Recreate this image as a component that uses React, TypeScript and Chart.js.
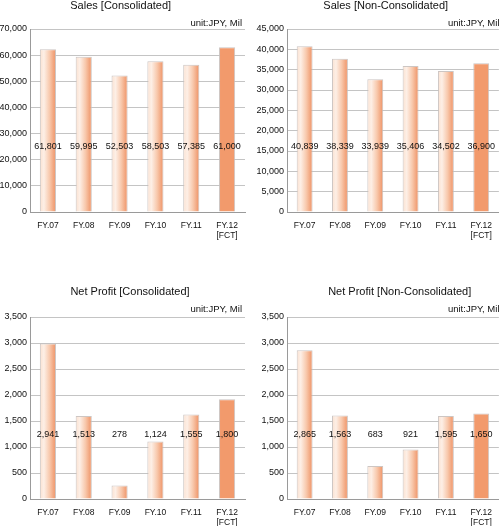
import React, { useEffect, useRef } from 'react';
import { Chart, registerables } from 'chart.js';

Chart.register(...registerables);

const categories: (string | string[])[] = ['FY.07', 'FY.08', 'FY.09', 'FY.10', 'FY.11', ['FY.12', '[FCT]']];

// bar heights as drawn in the picture
const salesConsBars = [62250, 59420, 52170, 57660, 56370, 63000];
const salesConsLabels = ['61,801', '59,995', '52,503', '58,503', '57,385', '61,000'];

const salesNonConsBars = [40750, 37710, 32650, 35920, 34690, 36580];
const salesNonConsLabels = ['40,839', '38,339', '33,939', '35,406', '34,502', '36,900'];

const profitConsBars = [2988, 1596, 258, 1104, 1623, 1917];
const profitConsLabels = ['2,941', '1,513', '278', '1,124', '1,555', '1,800'];

const profitNonConsBars = [2860, 1604, 635, 950, 1596, 1642];
const profitNonConsLabels = ['2,865', '1,563', '683', '921', '1,595', '1,650'];

const unitText = 'unit:JPY, Mil';

const FONT = '"Liberation Sans", Arial, sans-serif';
const TEXT = '#111';

const textPlugin = {
  id: 'panelText',
  afterDraw(chart: any, _args: any, opts: any) {
    const ctx = chart.ctx;
    ctx.save();
    ctx.fillStyle = TEXT;
    ctx.textBaseline = 'middle';
    ctx.font = `11px ${FONT}`;
    ctx.textAlign = 'center';
    ctx.fillText(opts.title, opts.titleX, opts.titleY);
    ctx.font = `9.5px ${FONT}`;
    ctx.textAlign = 'right';
    ctx.fillText(opts.unit, opts.unitX, opts.unitY);
    const meta = chart.getDatasetMeta(0);
    const ca = chart.chartArea;
    const y = ca.bottom - 0.356 * (ca.bottom - ca.top);
    ctx.font = `9px ${FONT}`;
    ctx.textAlign = 'center';
    meta.data.forEach((el: any, i: number) => {
      ctx.fillText(opts.labels[i], el.x, y);
    });
    ctx.restore();
  },
};

type PanelProps = {
  title: string;
  bars: number[];
  labels: string[];
  max: number;
  step: number;
  left: number;
  top: number;
  width: number;
  height: number;
  yAxisWidth: number;
  padTop: number;
  padRight: number;
  xAxisHeight: number;
  titleX: number;
  titleY: number;
  unitX: number;
  unitY: number;
};

function Panel(p: PanelProps) {
  const ref = useRef<HTMLCanvasElement | null>(null);
  useEffect(() => {
    if (!ref.current) return;
    const n = p.bars.length;
    const barPct = 0.45;
    const chart = new Chart(ref.current, {
      type: 'bar',
      data: {
        labels: categories as any,
        datasets: [
          {
            data: p.bars,
            barPercentage: barPct,
            categoryPercentage: 1,
            borderWidth: { top: 1, left: 1, right: 1, bottom: 0 } as any,
            borderColor: 'rgba(200,192,188,0.9)',
            backgroundColor: (c: any) => {
              const ch = c.chart;
              const i = c.dataIndex;
              if (i === n - 1) return '#f29a6c';
              const xs = ch.scales && ch.scales.x;
              if (!ch.chartArea || !xs || i === undefined) return '#f6c3a6';
              const cx = xs.getPixelForValue(i);
              const w = (xs.width / n) * barPct;
              const g = ch.ctx.createLinearGradient(cx - w / 2, 0, cx + w / 2, 0);
              g.addColorStop(0, '#fbe1d0');
              g.addColorStop(0.25, '#fdefe6');
              g.addColorStop(0.6, '#f8c9ad');
              g.addColorStop(1, '#ee9062');
              return g;
            },
          },
        ],
      },
      options: {
        responsive: false,
        animation: false,
        events: [],
        layout: { padding: { top: p.padTop, right: p.padRight, left: 0, bottom: 0 } },
        plugins: {
          legend: { display: false },
          tooltip: { enabled: false },
          panelText: {
            title: p.title,
            unit: unitText,
            labels: p.labels,
            titleX: p.titleX,
            titleY: p.titleY,
            unitX: p.unitX,
            unitY: p.unitY,
          },
        } as any,
        scales: {
          x: {
            ticks: {
              font: { family: FONT, size: 8.5, lineHeight: 1.15 },
              color: TEXT,
              padding: 9,
              maxRotation: 0,
              autoSkip: false,
            },
            grid: { display: false, drawTicks: false },
            border: { color: '#9a9a9a' },
            afterFit: (s: any) => {
              s.height = p.xAxisHeight;
            },
          },
          y: {
            min: 0,
            max: p.max,
            ticks: {
              stepSize: p.step,
              padding: 3,
              font: { family: FONT, size: 9 },
              color: TEXT,
              callback: (v: any) => Number(v).toLocaleString('en-US'),
            },
            grid: { color: '#c4c4c4', drawTicks: false },
            border: { color: '#9a9a9a' },
            afterFit: (s: any) => {
              s.width = p.yAxisWidth;
            },
          },
        },
      },
      plugins: [textPlugin as any],
    });
    return () => chart.destroy();
  }, []);
  return (
    <canvas
      ref={ref}
      width={p.width}
      height={p.height}
      style={{ position: 'absolute', left: p.left, top: p.top, width: p.width, height: p.height }}
    />
  );
}

export default function App() {
  return (
    <div style={{ position: 'absolute', left: 0, top: 0, width: 501, height: 526, background: '#fff', overflow: 'hidden' }}>
      <Panel
        title="Sales [Consolidated]"
        bars={salesConsBars}
        labels={salesConsLabels}
        max={70000}
        step={10000}
        left={0}
        top={0}
        width={250}
        height={260}
        yAxisWidth={30}
        padTop={29}
        padRight={5}
        xAxisHeight={48}
        titleX={120.7}
        titleY={5.5}
        unitX={242}
        unitY={23}
      />
      <Panel
        title="Sales [Non-Consolidated]"
        bars={salesNonConsBars}
        labels={salesNonConsLabels}
        max={45000}
        step={5000}
        left={250}
        top={0}
        width={251}
        height={260}
        yAxisWidth={37}
        padTop={29}
        padRight={0}
        xAxisHeight={48}
        titleX={135.7}
        titleY={5.5}
        unitX={249.5}
        unitY={23}
      />
      <Panel
        title="Net Profit [Consolidated]"
        bars={profitConsBars}
        labels={profitConsLabels}
        max={3500}
        step={500}
        left={0}
        top={260}
        width={250}
        height={266}
        yAxisWidth={30}
        padTop={57}
        padRight={5}
        xAxisHeight={27}
        titleX={130}
        titleY={31.5}
        unitX={242}
        unitY={49.5}
      />
      <Panel
        title="Net Profit [Non-Consolidated]"
        bars={profitNonConsBars}
        labels={profitNonConsLabels}
        max={3500}
        step={500}
        left={250}
        top={260}
        width={251}
        height={266}
        yAxisWidth={37}
        padTop={57}
        padRight={0}
        xAxisHeight={27}
        titleX={149.7}
        titleY={31.5}
        unitX={249.5}
        unitY={49.5}
      />
    </div>
  );
}
